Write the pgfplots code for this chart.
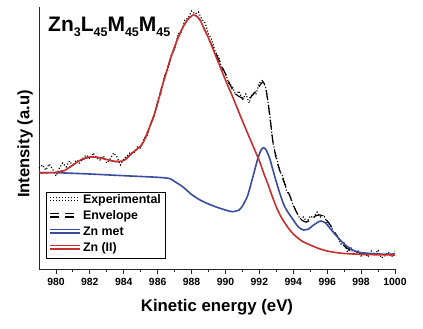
\documentclass[border=0pt]{standalone}
\usepackage{fontspec}
\setmainfont{Liberation Sans}
\usepackage{pgfplots}
\pgfplotsset{compat=1.18}
\definecolor{znblue}{RGB}{58,76,158}
\definecolor{znred}{RGB}{200,48,48}
\begin{document}
\begin{tikzpicture}
\path[use as bounding box] (-39pt,-60pt) rectangle (384pt,269pt);
\begin{axis}[
 scale only axis, width=356pt, height=262pt,
 xmin=979, xmax=1000, ymin=0, ymax=262,
 axis x line=bottom, axis y line=left,
 axis line style={-, line width=0.9pt, black!85},
 xtick={980,982,...,1000}, minor x tick num=1,
 ytick=\empty,
 tick align=outside,
 major tick length=5.5pt, minor tick length=3pt,
 every tick/.style={black!85, line width=0.9pt},
 /pgf/number format/assume math mode=true,
 /pgf/number format/1000 sep={},
 xticklabel style={font=\bfseries\fontsize{10.4}{12}\selectfont},
 xlabel={Kinetic energy (eV)},
 ylabel={Intensity (a.u)},
 xlabel style={at={(axis description cs:0.5,0)}, anchor=center, yshift=-38pt, font=\bfseries\fontsize{16.8}{20}\selectfont},
 ylabel style={at={(axis description cs:-0.0393,0.477)}, anchor=center, font=\bfseries\fontsize{16.6}{20}\selectfont},
 legend cell align=left,
 legend style={at={(axis description cs:0.0197,0.0408)}, anchor=south west, draw=black, line width=0.8pt,
   font=\bfseries\fontsize{12.4}{14}\selectfont, inner xsep=3pt, inner ysep=1pt, row sep=0pt,
   nodes={inner sep=2pt, text height=9pt, text depth=3pt}},
 legend image code/.code={\path (0pt,0pt) -- (30pt,0pt); \draw[#1] (0pt,3.5pt) -- (30pt,3.5pt);},
]
% Experimental
\addplot[black, line width=1.15pt, dash pattern=on 1.1pt off 1.9pt] coordinates {
(979.0,101)(979.2,104)(979.4,99)(979.6,105)(979.8,100)(980.0,93)(980.2,101)(980.4,106)(980.6,102)(980.8,108)
(981.0,103)(981.2,109)(981.4,106)(981.6,111)(981.8,114)(982.0,110)(982.2,116)(982.4,111)(982.6,109)(982.8,113)
(983.0,106)(983.2,110)(983.4,116)(983.6,112)(983.8,104)(984.0,110)(984.2,113)(984.4,117)(984.6,116)(984.8,122)
(985.0,121)(985.2,131)(985.4,134)(985.6,147)(985.8,152)(986.0,169)(986.2,176)(986.4,193)(986.6,199)(986.8,214)
(987.0,220)(987.2,235)(987.4,237)(987.6,249)(987.8,251)(988.0,258)(988.2,255)(988.4,257)(988.6,250)(988.8,246)
(989.0,235)(989.2,229)(989.4,217)(989.6,212)(989.8,200)(990.0,196)(990.2,185)(990.4,183)(990.6,174)(990.8,178)
(991.0,169)(991.2,175)(991.4,166)(991.6,176)(991.8,175)(992.0,186)(992.2,189)(992.4,180)(992.6,156)(992.8,126)
(993.0,112)(993.2,98)(993.4,92)(993.6,78)(993.8,74)(994.0,63)(994.2,57)(994.4,50)(994.6,52)(994.8,47)
(995.0,53)(995.2,51)(995.4,57)(995.6,52)(995.8,54)(996.0,46)(996.2,44)(996.4,36)(996.6,33)(996.8,25)
(997.0,26)(997.2,17)(997.4,21)(997.6,14)(997.8,19)(998.0,13)(998.2,17)(998.4,12)(998.6,18)(998.8,14)
(999.0,19)(999.2,11)(999.4,13)(999.6,17)(999.8,12)(1000.0,18)
};
\addlegendentry{Experimental}
% Envelope
\addplot[black, line width=1.2pt, dash pattern=on 9pt off 6pt, smooth, tension=0.4] coordinates {
(979.0,96.3)(979.5,96.3)(980.0,96.5)(980.5,99)(981.0,104)(981.5,109)(982.0,112)(982.5,111.5)(983.0,109.5)(983.5,107.5)
(984.0,108.5)(984.5,116)(985.0,123)(985.25,130)(985.5,141)(985.75,152)(986.0,166)(986.25,182)(986.5,196)(986.75,210)
(987.0,222)(987.25,233)(987.5,242)(987.75,249)(988.0,253)(988.25,253.5)(988.5,249)(988.75,240)(989.0,231)(989.25,222)
(989.5,213)(989.75,204)(990.0,195)(990.25,185)(990.5,177)(990.75,173)(991.0,171)(991.25,170)(991.5,172)(991.75,177)
(992.0,183)(992.2,187)(992.35,183)(992.5,168)(992.65,148)(992.8,127)(993.0,110)(993.25,96)(993.5,85)(993.75,75)
(994.0,64)(994.25,55)(994.5,49)(994.75,47)(995.0,49)(995.3,53)(995.6,54)(995.85,51)(996.1,46)(996.4,38)
(996.7,30)(997.0,23)(997.3,19.5)(997.6,17.5)(998.0,16)(999.0,15)(1000.0,14.5)
};
\addlegendentry{Envelope}
% Zn met
\addplot[znblue, line width=1.6pt, smooth, tension=0.4] coordinates {
(979,96.3)(980,96.3)(982,95)(984,93.3)(986,91.7)(986.7,90.5)(987,87.5)(987.5,82)(988,74.5)(988.5,69)
(989,65)(989.5,61.7)(990,59)(990.4,57.3)(990.8,59)(991.0,63)(991.3,73)(991.6,91)(991.9,110)(992.1,119)
(992.25,121.3)(992.4,119)(992.6,111)(992.8,99)(993.0,87)(993.2,76)(993.4,66)(993.6,59)(994.0,49)(994.3,42)
(994.6,39)(994.9,40)(995.2,44)(995.6,48)(995.9,46)(996.2,40)(996.5,34)(997.0,25)(997.5,19)(998.0,16.3)
(999.0,15)(1000,14.7)
};
\addlegendentry{Zn met}
% Zn (II)
\addplot[znred, line width=1.6pt, smooth, tension=0.4] coordinates {
(979,96.3)(980,96.5)(980.5,98.5)(981,104)(981.5,109.5)(982,112)(982.5,111.5)(983,109.5)(983.5,107.5)(984,108.5)
(984.5,116)(985,123)(985.25,130)(985.5,141)(985.75,152)(986,166)(986.25,182)(986.5,196)(986.75,210)(987,222)
(987.25,233)(987.5,242)(987.75,249)(988,253)(988.1,254)(988.25,253.5)(988.5,249)(988.75,240)(989,231)(989.5,210)
(990,189)(990.5,169)(991,148)(991.5,128)(992,108)(992.25,96)(992.5,85)(992.75,73)(993,62)(993.25,53)
(993.5,46)(993.75,40)(994,35)(994.5,28)(995,24)(995.5,20.5)(996,18)(996.5,16.5)(997,15.5)(998,14.6)
(999,14.2)(1000,14)
};
\addlegendentry{Zn (II)}
\node[anchor=base west, inner sep=0pt, font=\bfseries\fontsize{21}{24}\selectfont] at (axis description cs:0.0253,0.908)
 {Zn\raisebox{-5pt}{\fontsize{12.5}{14}\selectfont 3}L\raisebox{-5pt}{\fontsize{12.5}{14}\selectfont 45}M\raisebox{-5pt}{\fontsize{12.5}{14}\selectfont 45}M\raisebox{-5pt}{\fontsize{12.5}{14}\selectfont 45}};
\end{axis}
\end{tikzpicture}
\end{document}
